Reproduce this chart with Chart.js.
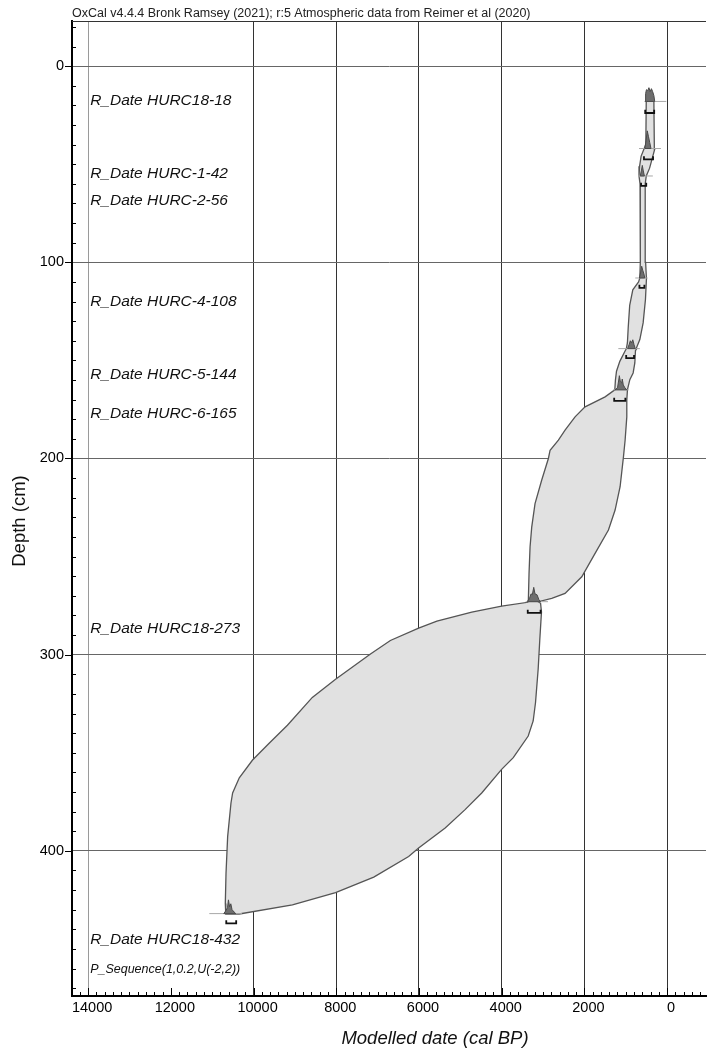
<!DOCTYPE html>
<html>
<head>
<meta charset="utf-8">
<script src="https://cdn.jsdelivr.net/npm/chart.js@4.4.2/dist/chart.umd.min.js"></script>
<style>
html, body { margin: 0; padding: 0; background: #fff; overflow: hidden; }
</style>
</head>
<body>
<canvas id="chart-oxcal" width="709" height="1049"></canvas>
<script>
// --- text
const headerText = 'OxCal v4.4.4 Bronk Ramsey (2021); r:5 Atmospheric data from Reimer et al (2020)';
const xTitle = 'Modelled date (cal BP)';
const yTitle = 'Depth (cm)';

// --- dated samples (depth in cm)
const dateNames = ['R_Date HURC18-18', 'R_Date HURC-1-42', 'R_Date HURC-2-56', 'R_Date HURC-4-108',
  'R_Date HURC-5-144', 'R_Date HURC-6-165', 'R_Date HURC18-273', 'R_Date HURC18-432'];
const dateDepths = [18, 42, 56, 108, 144, 165, 273, 432];
const nameDepths = [17.8, 55, 68.8, 120.2, 157.4, 177.3, 286.8, 445.2];
const seqName = 'P_Sequence(1,0.2,U(-2,2))';
const seqDepth = 460.5;

// --- 95% envelope, older edge (top -> bottom)
const oldEdgeAge = [505, 515, 560, 630, 665, 680, 655, 648, 660, 690, 830, 905, 940, 960, 985, 1023,
  1144, 1224, 1250, 1265, 1500, 1984, 2226, 2468, 2629, 2830, 2871, 3032, 3194, 3274, 3314, 3339,
  3355, 3370, 4002, 4724, 5567, 6009, 6692, 7173, 8017, 8579, 9181, 9623, 10024, 10345, 10506,
  10546, 10626, 10666, 10683, 10672];
const oldEdgeDepth = [18, 40, 42.3, 46, 51, 56, 60, 100, 108, 110, 114, 122, 133, 141, 144, 145.5,
  150.5, 155.5, 160, 165, 168.6, 173.7, 178.8, 185.6, 190.7, 195.8, 200, 211, 223, 235, 245, 258.6,
  272, 273.3, 275.3, 278.3, 282.9, 286.5, 292.8, 299.7, 312.5, 321.8, 336, 345.2, 353.7, 362.8, 370.5,
  375.6, 392.6, 411.4, 426.8, 432.2];

// --- 95% envelope, younger edge (top -> bottom)
const youngEdgeAge = [320, 310, 300, 360, 424, 504, 530, 520, 500, 524, 580, 660, 741, 740, 765, 781,
  822, 902, 959, 975, 975, 1016, 1056, 1137, 1258, 1419, 1742, 2064, 2468, 2790, 3113, 3060, 3038,
  3078, 3118, 3182, 3239, 3359, 3720, 4002, 4483, 4885, 5367, 6009, 6250, 7093, 8017, 9060, 10345];
const youngEdgeDepth = [18, 40, 42.3, 47, 52, 56, 60, 100, 108.5, 119, 130.9, 139.4, 143.6, 144.2, 145,
  151.3, 156.4, 159.8, 164.9, 170.3, 178.8, 190.7, 199.2, 214.4, 226.3, 236.5, 248.4, 260.3, 268.8,
  271.3, 273, 273.8, 278.3, 292, 307.3, 324.4, 333.8, 341.5, 352.5, 358.5, 370.5, 379, 388.4, 398.6,
  402.9, 413.4, 421.3, 427.6, 432.2];

// --- posterior distributions drawn on each date (age, height above the date line in cm)
const probAges = [
  [530, 520, 500, 470, 440, 410, 380, 350, 320, 300],
  [540, 510, 480, 450, 420, 390],
  [650, 620, 600, 580, 550],
  [670, 640, 615, 590, 560, 540],
  [955, 920, 890, 860, 830, 800, 770],
  [1260, 1200, 1170, 1155, 1130, 1100, 1085, 1060, 1020, 975],
  [3380, 3330, 3290, 3260, 3225, 3195, 3145, 3100, 3060],
  [10720, 10670, 10630, 10607, 10580, 10550, 10520, 10470, 10430]
];
const probHeights = [
  [0, 4, 6, 5.5, 7, 5, 6.5, 5, 3, 0],
  [0, 4, 9, 6, 3, 0],
  [0, 3, 5.4, 3, 0],
  [0, 3, 6, 4, 2, 0],
  [0, 2, 4, 3, 4.5, 2, 0],
  [0, 1, 5, 7.2, 4, 3.5, 5.5, 2.5, 1, 0],
  [0, 1.5, 4, 3.5, 7.3, 4, 3.5, 1, 0],
  [0, 1.5, 3, 7, 3.5, 5, 2, 0.8, 0]
];

// --- 95% ranges (brackets) and likelihood extents
const rangeOld = [530, 560, 630, 670, 990, 1280, 3370, 10660];
const rangeYoung = [313, 340, 505, 550, 800, 1010, 3060, 10420];
const rangeDepths = [23.9, 47.5, 61, 113, 148.8, 170.6, 278.7, 437];
const likeOld = [550, 680, 700, 770, 1180, 1300, 3420, 11070];
const likeYoung = [20, 150, 345, 470, 660, 930, 2880, 10280];

const FONT = "'Liberation Sans', Arial, sans-serif";

const envelope = oldEdgeAge.map((a, i) => ({x: a, y: oldEdgeDepth[i]}))
  .concat(youngEdgeAge.map((a, i) => ({x: a, y: youngEdgeDepth[i]})).reverse());
envelope.push(envelope[0]);

const datasets = [{
  data: envelope,
  showLine: true,
  fill: 'shape',
  backgroundColor: '#e1e1e1',
  borderColor: '#555',
  borderWidth: 1.3,
  pointRadius: 0,
  order: 3
}];

dateDepths.forEach((d, i) => {
  datasets.push({
    data: [{x: likeOld[i], y: d}, {x: likeYoung[i], y: d}],
    showLine: true,
    borderColor: '#a8a8a8',
    borderWidth: 1,
    pointRadius: 0,
    order: 2
  });
  const pts = probAges[i].map((a, j) => ({x: a, y: d - probHeights[i][j]}));
  pts.push(pts[0]);
  datasets.push({
    data: pts,
    showLine: true,
    fill: 'shape',
    backgroundColor: '#6e6e6e',
    borderColor: '#4a4a4a',
    borderWidth: 1,
    pointRadius: 0,
    order: 1
  });
  const r = rangeDepths[i];
  datasets.push({
    data: [{x: rangeOld[i], y: r - 1.6}, {x: rangeOld[i], y: r}, {x: rangeYoung[i], y: r}, {x: rangeYoung[i], y: r - 1.6}],
    showLine: true,
    borderColor: '#111',
    borderWidth: 1.8,
    pointRadius: 0,
    order: 0
  });
});

const oxcalFrame = {
  id: 'oxcalFrame',
  afterDraw(chart) {
    const {ctx, chartArea: area, scales: {x, y}} = chart;
    ctx.save();

    ctx.fillStyle = '#222';
    ctx.font = '12.5px ' + FONT;
    ctx.textAlign = 'left';
    ctx.textBaseline = 'middle';
    ctx.fillText(headerText, area.left, 14);

    ctx.strokeStyle = '#333';
    ctx.lineWidth = 1;
    ctx.beginPath();
    ctx.moveTo(area.left, area.top + 0.5);
    ctx.lineTo(area.right, area.top + 0.5);
    ctx.stroke();

    // inner minor ticks, outer major ticks
    ctx.strokeStyle = '#000';
    ctx.beginPath();
    for (let v = Math.ceil(x.min / 200) * 200; v <= x.max; v += 200) {
      const px = Math.round(x.getPixelForValue(v)) + 0.5;
      const len = v % 2000 === 0 ? 8 : 4;
      ctx.moveTo(px, area.bottom);
      ctx.lineTo(px, area.bottom - len);
    }
    for (let d = Math.ceil(y.min / 10) * 10; d <= y.max; d += 10) {
      const py = Math.round(y.getPixelForValue(d)) + 0.5;
      if (d % 100 === 0) {
        ctx.moveTo(area.left - 7, py);
        ctx.lineTo(area.left, py);
      } else {
        ctx.moveTo(area.left, py);
        ctx.lineTo(area.left + 4, py);
      }
    }
    ctx.stroke();

    // sample names
    const lx = x.getPixelForValue(14000) + 2;
    ctx.fillStyle = '#111';
    ctx.font = 'italic 15.5px ' + FONT;
    dateNames.forEach((t, i) => ctx.fillText(t, lx, y.getPixelForValue(nameDepths[i])));
    ctx.font = 'italic 12.5px ' + FONT;
    ctx.fillText(seqName, lx, y.getPixelForValue(seqDepth));

    // axis titles
    ctx.fillStyle = '#111';
    ctx.font = 'italic 18.5px ' + FONT;
    ctx.textAlign = 'center';
    ctx.fillText(xTitle, 435, 1039);
    ctx.translate(20, 521);
    ctx.rotate(-Math.PI / 2);
    ctx.font = '18.5px ' + FONT;
    ctx.fillText(yTitle, 0, 0);
    ctx.restore();
  }
};

new Chart(document.getElementById('chart-oxcal'), {
  type: 'scatter',
  data: {datasets},
  options: {
    responsive: false,
    animation: false,
    devicePixelRatio: 1,
    layout: {padding: {top: 21, right: 0, left: 0, bottom: 0}},
    plugins: {
      legend: {display: false},
      tooltip: {enabled: false}
    },
    scales: {
      x: {
        type: 'linear',
        position: 'bottom',
        reverse: true,
        min: -940,
        max: 14390,
        z: 1,
        afterFit: s => { s.height = 53; },
        border: {color: '#000', width: 2},
        grid: {
          drawTicks: false,
          lineWidth: 1,
          color: c => {
            const v = c.tick.value;
            if (v % 2000 !== 0 || v === 12000) return 'rgba(0,0,0,0)';
            return v === 14000 ? '#9a9a9a' : '#333';
          }
        },
        ticks: {
          stepSize: 200,
          autoSkip: false,
          maxRotation: 0,
          minRotation: 0,
          padding: 3,
          labelOffset: 4,
          color: '#000',
          font: {family: FONT, size: 14.5},
          callback: v => (v % 2000 === 0 ? String(v) : '')
        }
      },
      y: {
        type: 'linear',
        position: 'left',
        reverse: true,
        min: -23,
        max: 474,
        z: 1,
        afterFit: s => { s.width = 72; },
        border: {color: '#000', width: 2},
        grid: {
          drawTicks: false,
          lineWidth: 1,
          color: c => (c.tick.value % 100 === 0 ? '#666' : 'rgba(0,0,0,0)')
        },
        ticks: {
          stepSize: 10,
          autoSkip: false,
          padding: 8,
          color: '#000',
          font: {family: FONT, size: 14.5},
          callback: v => (v % 100 === 0 ? String(v) : '')
        }
      }
    }
  },
  plugins: [oxcalFrame]
});
</script>
</body>
</html>
